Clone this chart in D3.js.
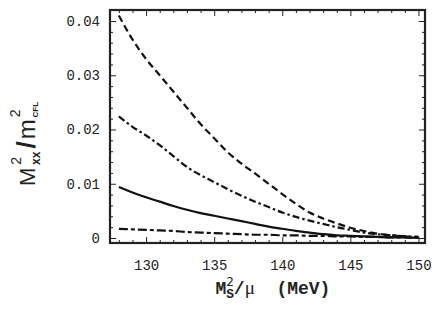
<!DOCTYPE html>
<html>
<head>
<meta charset="utf-8">
<script src="https://cdn.jsdelivr.net/npm/d3@7"></script>
<style>
  body { margin: 0; background: #fff; }
  text { fill: #222; }
</style>
</head>
<body>
<div id="viz"></div>
<script>
// x values (Ms^2/mu in MeV)
var xs = [128,129,130,131,132,133,134,135,136,137,138,139,140,141,142,143,144,145,146,147,148,149,150];

// dashed curve (top)
var dashed = [0.0410,0.0366,0.0330,0.0300,0.0270,0.0240,0.0210,0.0184,0.0158,0.0137,0.0119,0.0100,0.0081,0.0063,0.0047,0.0036,0.0027,0.0019,0.0013,0.0008,0.0005,0.0003,0.0002];
// dash-dot curve
var dashDot = [0.0224,0.0205,0.0189,0.0171,0.0151,0.0131,0.0116,0.0103,0.0090,0.0078,0.0067,0.0057,0.0047,0.0039,0.0032,0.0026,0.0020,0.0015,0.0010,0.0007,0.0005,0.0003,0.0002];
// solid curve
var solid = [0.0094,0.0084,0.0075,0.0067,0.0059,0.0052,0.0046,0.0041,0.0036,0.0031,0.0026,0.0021,0.0017,0.0013,0.0010,0.0007,0.0005,0.0004,0.0003,0.0002,0.0001,0.0001,0.0000];
// long dash - short dash curve (bottom)
var dashLong = [0.0017,0.0016,0.0015,0.0014,0.0013,0.0011,0.0010,0.0009,0.0008,0.0007,0.0006,0.0006,0.0005,0.0005,0.0004,0.0004,0.0003,0.0003,0.0002,0.0002,0.0001,0.0001,0.0000];

var xTicks = [130,135,140,145,150];
var yTicks = [0,0.01,0.02,0.03,0.04];

var width = 442, height = 324;
var mLeft = 110, mRight = 425, mTop = 10, mBottom = 243;

var svg = d3.select('#viz').append('svg')
  .attr('width', width)
  .attr('height', height)

var x = d3.scaleLinear().domain([127.35,150.48]).range([mLeft,mRight]);
var y = d3.scaleLinear().domain([-0.00092,0.04203]).range([mBottom,mTop]);

var minorX = d3.range(128,151,1).filter(function(d){ return xTicks.indexOf(d) < 0 });
var minorY = d3.range(0,0.0401,0.002).filter(function(d){ return Math.abs(Math.round(d*100)-d*100) > 1e-6 });

// lines
var curves = [
  {vals: dashed, dash: '7,4'},
  {vals: dashDot, dash: '7,3,2.5,3'},
  {vals: solid, dash: null},
  {vals: dashLong, dash: '9,3,4,3'}
];

var line = d3.line()
  .x(function(d){ return x(d[0]) })
  .y(function(d){ return y(d[1]) })
  .curve(d3.curveMonotoneX);

svg.append('clipPath').attr('id','clip')
  .append('rect').attr('x',mLeft).attr('y',mTop).attr('width',mRight-mLeft).attr('height',mBottom-mTop);

svg.append('g').attr('clip-path','url(#clip)')
  .selectAll('path')
  .data(curves)
  .enter()
  .append('path')
  .attr('d', function(c){ return line(xs.map(function(v,i){ return [v, c.vals[i]] })) })
  .attr('fill','none')
  .attr('stroke','#111')
  .attr('stroke-width',2.2)
  .attr('stroke-dasharray', function(c){ return c.dash })

// axes (ticks inward on all four sides)
var fontTick = '"Liberation Mono", "DejaVu Sans Mono", monospace';

svg.append('g').attr('transform','translate(0,' + mBottom + ')')
  .call(d3.axisBottom(x).tickValues(xTicks).tickSizeInner(-6).tickSizeOuter(0).tickPadding(17));
svg.append('g').attr('transform','translate(0,' + mBottom + ')')
  .call(d3.axisBottom(x).tickValues(minorX).tickSizeInner(-3).tickSizeOuter(0).tickFormat(''));
svg.append('g').attr('transform','translate(0,' + mTop + ')')
  .call(d3.axisTop(x).tickValues(xTicks).tickSizeInner(-6).tickSizeOuter(0).tickFormat(''));
svg.append('g').attr('transform','translate(0,' + mTop + ')')
  .call(d3.axisTop(x).tickValues(minorX).tickSizeInner(-3).tickSizeOuter(0).tickFormat(''));

svg.append('g').attr('transform','translate(' + mLeft + ',0)')
  .call(d3.axisLeft(y).tickValues(yTicks).tickSizeInner(-6).tickSizeOuter(0).tickPadding(10)
    .tickFormat(function(d){ return d === 0 ? '0' : d3.format('.2f')(d) }));
svg.append('g').attr('transform','translate(' + mLeft + ',0)')
  .call(d3.axisLeft(y).tickValues(minorY).tickSizeInner(-3).tickSizeOuter(0).tickFormat(''));
svg.append('g').attr('transform','translate(' + mRight + ',0)')
  .call(d3.axisRight(y).tickValues(yTicks).tickSizeInner(-6).tickSizeOuter(0).tickFormat(''));
svg.append('g').attr('transform','translate(' + mRight + ',0)')
  .call(d3.axisRight(y).tickValues(minorY).tickSizeInner(-3).tickSizeOuter(0).tickFormat(''));

svg.selectAll('.domain').remove();
svg.selectAll('.tick line').attr('stroke','#222').attr('stroke-width',1);
svg.selectAll('.tick text')
  .style('font-family', fontTick)
  .style('font-size','14px')
  .attr('fill','#222');

// frame
svg.append('rect')
  .attr('x',mLeft).attr('y',mTop)
  .attr('width',mRight-mLeft).attr('height',mBottom-mTop)
  .attr('fill','none')
  .attr('stroke','#222')
  .attr('stroke-width',2.2)

// x label: Ms^2/mu (MeV)
var xl = svg.append('text')
  .attr('x', 273).attr('y', 294)
  .attr('text-anchor','middle')
  .style('font-family', fontTick)
  .style('font-weight','bold')
  .style('font-size','18px');
xl.append('tspan').text('M');
xl.append('tspan').attr('dy',4).style('font-size','13px').text('S');
xl.append('tspan').attr('dx',-8).attr('dy',-12).style('font-size','12px').style('font-weight','normal').style('font-family','"DejaVu Sans", sans-serif').text('2');
xl.append('tspan').attr('dy',8).text('/');
xl.append('tspan').style('font-family','"Liberation Serif", serif').style('font-weight','normal').style('font-size','19px').text('\u03bc');
xl.append('tspan').attr('xml:space','preserve').text('  (MeV)');

// y label: M^2_xx / m^2_CFL
var yl = svg.append('text')
  .attr('transform','translate(35,144) rotate(-90)')
  .attr('text-anchor','middle')
  .style('font-family','"Liberation Sans", Arial, sans-serif')
  .style('font-size','22px');
yl.append('tspan').text('M');
yl.append('tspan').attr('dx',3).attr('dy',-14).style('font-size','14px').text('2');
yl.append('tspan').attr('dx',-8).attr('dy',19).style('font-size','12px').style('font-weight','bold').text('xx');
yl.append('tspan').attr('dx',3).attr('dy',-5).style('font-size','26px').style('font-weight','bold').text('/');
yl.append('tspan').attr('dx',2).style('font-size','24px').text('m');
yl.append('tspan').attr('dx',2).attr('dy',-15).style('font-size','14px').text('2');
yl.append('tspan').attr('dx',-8).attr('dy',18).style('font-size','8px').style('font-weight','bold').text('CFL');
</script>
</body>
</html>
